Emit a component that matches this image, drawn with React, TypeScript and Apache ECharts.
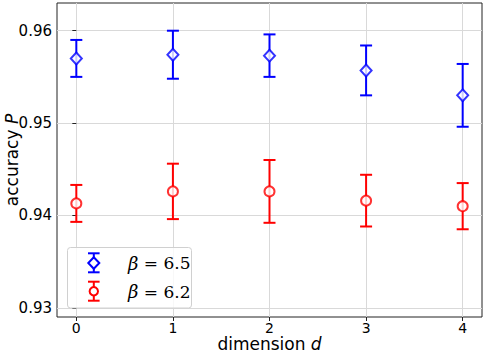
import React, { useEffect, useRef } from "react";
import * as echarts from "echarts";

const dims = [0, 1, 2, 3, 4];
const betas = ["6.5", "6.2"];
const blueMean = [0.957, 0.9574, 0.9573, 0.9557, 0.953];
const blueErr = [0.002, 0.0026, 0.0023, 0.0027, 0.0034];
const redMean = [0.9413, 0.9426, 0.9426, 0.9416, 0.941];
const redErr = [0.002, 0.003, 0.0034, 0.0028, 0.0025];
const yTicks = [0.93, 0.94, 0.95, 0.96];
const xTicks = [0, 1, 2, 3, 4];

const BLUE = "#0000ff";
const RED = "#ff0000";

function errData(mean: number[], err: number[]) {
  return dims.map((d, i) => [d, mean[i] - err[i], mean[i] + err[i]]);
}

function errRender(color: string) {
  return (params: any, api: any) => {
    const x = api.value(0);
    const lo = api.coord([x, api.value(1)]);
    const hi = api.coord([x, api.value(2)]);
    const cap = 6;
    const style = { stroke: color, lineWidth: 2, fill: "none" };
    return {
      type: "group",
      children: [
        { type: "line", shape: { x1: lo[0], y1: lo[1], x2: hi[0], y2: hi[1] }, style },
        { type: "line", shape: { x1: lo[0] - cap, y1: lo[1], x2: lo[0] + cap, y2: lo[1] }, style },
        { type: "line", shape: { x1: hi[0] - cap, y1: hi[1], x2: hi[0] + cap, y2: hi[1] }, style },
      ],
    };
  };
}

export default function App() {
  const ref = useRef<HTMLDivElement>(null);
  useEffect(() => {
    if (!ref.current) return;
    const chart = echarts.init(ref.current, null, { renderer: "svg" });
    const font = "'DejaVu Sans', sans-serif";
    const legendStyle = (c: string) => ({ stroke: c, lineWidth: 2, fill: "none" });
    const legendText = (b: string, y: number) => ({
      type: "text",
      x: 128,
      y,
      style: {
        text: "{i|β}{n| = " + b + "}",
        verticalAlign: "middle",
        rich: {
          i: { fontFamily: "'DejaVu Serif', serif", fontStyle: "italic", fontSize: 18, fill: "#000", color: "#000" },
          n: { fontFamily: "'DejaVu Serif', serif", fontSize: 17, fill: "#000", color: "#000" },
        },
      },
      z: 12,
    });
    const nameStyle = (lh: number) => ({
      fontFamily: font,
      fontSize: 17,
      lineHeight: lh,
      color: "#000",
      rich: { i: { fontFamily: font, fontStyle: "italic", fontSize: 17, lineHeight: lh, color: "#000" } },
    });
    chart.setOption({
      animation: false,
      backgroundColor: "#fff",
      textStyle: { fontFamily: font },
      grid: {
        left: 57,
        right: 2,
        top: 3,
        bottom: 37,
        outerBoundsMode: "none",
        containLabel: false,
        show: true,
        borderColor: "#222",
        borderWidth: 1,
        backgroundColor: "transparent",
      },
      xAxis: {
        type: "value",
        min: -0.2,
        max: 4.2,
        name: "dimension {i|d}",
        nameLocation: "middle",
        nameGap: 19,
        nameMoveOverlap: false,
        nameTextStyle: nameStyle(16),
        axisLine: { show: false },
        axisTick: { show: true, length: 4, lineStyle: { color: "#222" }, customValues: xTicks },
        axisLabel: {
          customValues: xTicks,
          fontSize: 14,
          lineHeight: 14,
          color: "#000",
          margin: 4,
          fontFamily: font,
        },
        splitLine: { show: true, lineStyle: { color: "#d9d9d9", width: 1 } },
      },
      yAxis: {
        type: "value",
        min: 0.929,
        max: 0.963,
        name: "accuracy {i|P}",
        nameLocation: "middle",
        nameGap: 37,
        nameMoveOverlap: false,
        nameTextStyle: nameStyle(17),
        axisLine: { show: false },
        axisTick: { show: true, length: 4, lineStyle: { color: "#222" }, customValues: yTicks },
        axisLabel: {
          customValues: yTicks,
          fontSize: 15,
          color: "#000",
          margin: 5,
          fontFamily: font,
          formatter: (v: number) => v.toFixed(2),
        },
        splitLine: { show: true, lineStyle: { color: "#d9d9d9", width: 1 } },
      },
      series: [
        {
          type: "custom",
          name: "err1",
          renderItem: errRender(BLUE),
          data: errData(blueMean, blueErr),
          encode: { x: 0, y: [1, 2] },
          z: 3,
        },
        {
          type: "custom",
          name: "err2",
          renderItem: errRender(RED),
          data: errData(redMean, redErr),
          encode: { x: 0, y: [1, 2] },
          z: 3,
        },
        {
          type: "scatter",
          name: "b1",
          symbol: "diamond",
          symbolSize: [11, 12],
          itemStyle: { color: "#fff", borderColor: BLUE, borderWidth: 2 },
          data: dims.map((d, i) => [d, blueMean[i]]),
          z: 4,
        },
        {
          type: "scatter",
          name: "b2",
          symbol: "circle",
          symbolSize: 10,
          itemStyle: { color: "#fff", borderColor: RED, borderWidth: 2 },
          data: dims.map((d, i) => [d, redMean[i]]),
          z: 4,
        },
      ],
      graphic: [
        {
          type: "rect",
          shape: { x: 67.5, y: 247.5, width: 124, height: 60.5, r: 3 },
          style: { fill: "rgba(255,255,255,0.8)", stroke: "#d0d0d0", lineWidth: 1 },
          z: 10,
        },
        { type: "line", shape: { x1: 93.8, y1: 253.3, x2: 93.8, y2: 272.3 }, style: legendStyle(BLUE), z: 11 },
        { type: "line", shape: { x1: 88, y1: 253.3, x2: 99.6, y2: 253.3 }, style: legendStyle(BLUE), z: 11 },
        { type: "line", shape: { x1: 88, y1: 272.3, x2: 99.6, y2: 272.3 }, style: legendStyle(BLUE), z: 11 },
        {
          type: "polygon",
          shape: { points: [[93.8, 257.3], [99.3, 263], [93.8, 268.7], [88.3, 263]] },
          style: { fill: "#fff", stroke: BLUE, lineWidth: 2 },
          z: 12,
        },
        { type: "line", shape: { x1: 93.8, y1: 281.7, x2: 93.8, y2: 300.7 }, style: legendStyle(RED), z: 11 },
        { type: "line", shape: { x1: 88, y1: 281.7, x2: 99.6, y2: 281.7 }, style: legendStyle(RED), z: 11 },
        { type: "line", shape: { x1: 88, y1: 300.7, x2: 99.6, y2: 300.7 }, style: legendStyle(RED), z: 11 },
        {
          type: "circle",
          shape: { cx: 93.8, cy: 291.2, r: 4.2 },
          style: { fill: "#fff", stroke: RED, lineWidth: 2 },
          z: 12,
        },
        legendText(betas[0], 263),
        legendText(betas[1], 291.5),
      ],
    });
    return () => chart.dispose();
  }, []);
  return <div ref={ref} style={{ width: 484, height: 354, position: "absolute", left: 0, top: 0 }} />;
}
